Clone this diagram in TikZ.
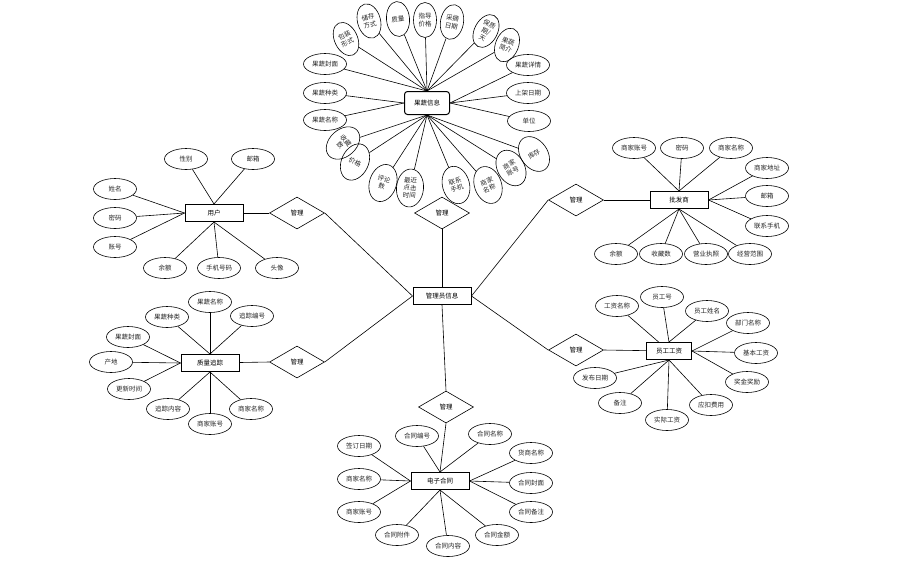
\documentclass[tikz,border=0pt]{standalone}
\usepackage{fontspec}
\newfontfamily\cjk{Noto Sans CJK SC}
\usetikzlibrary{shapes.geometric}
\tikzset{
  lbl/.style={font=\cjk\fontsize{6.5}{7.5}\selectfont,align=center,text=black!85},
  attr/.style={draw,ellipse,lbl,line width=0.6pt,inner sep=0pt,minimum width=43pt,minimum height=21pt},
  rattr/.style={attr,minimum width=23pt,minimum height=35pt},
  battr/.style={attr,minimum width=27pt,minimum height=38pt},
  ent/.style={draw,rectangle,lbl,text=black,line width=1pt,inner sep=1pt,minimum width=58pt,minimum height=17pt},
  rel/.style={draw,diamond,lbl,text=black,line width=0.6pt,inner sep=0pt,aspect=1.72,minimum width=55pt,minimum height=32pt},
}

\begin{document}
\begin{tikzpicture}[x=1pt,y=-1pt,line width=0.6pt]
  \useasboundingbox (0,0) rectangle (905,566);
  % centre and relations
  \node[ent] (adm) at (442,296) {管理员信息};
  \node[rel] (r1) at (442,213) {管理};
  \node[rel] (r2) at (297,213) {管理};
  \node[rel] (r3) at (576,200) {管理};
  \node[rel] (r4) at (297,362) {管理};
  \node[rel] (r5) at (576,350) {管理};
  \node[rel] (r6) at (446,407) {管理};
  \draw (r1.south) -- (adm.north);
  \draw (r2.east) -- (adm.west);
  \draw (r4.east) -- (adm.west);
  \draw (r3.west) -- (adm.east);
  \draw (r5.west) -- (adm.east);
  \draw (r6.north) -- (adm.south);

  % entities
  \node[ent] (yh) at (214,213) {用户};
  \node[ent] (pfs) at (679,200) {批发商};
  \node[ent] (zl) at (210,363) {质量追踪};
  \node[ent,minimum width=45pt] (yg) at (669,351) {员工工资};
  \node[ent] (ht) at (440,481) {电子合同};
  \node[ent,rounded corners=3pt,minimum width=45pt,minimum height=23pt] (gs) at (427,103) {果蔬信息};
  \draw (yh) -- (r2.west);
  \draw (pfs) -- (r3.east);
  \draw (zl) -- (r4.west);
  \draw (yg) -- (r5.east);
  \draw (r6.south) -- (ht.north);

  % 用户
  \foreach \i/\x/\y/\a/\t in {1/186/159/.north/性别,2/253/159/.north/邮箱,3/115/189/.west/姓名,4/115/218/.west/密码,
      5/115/247/.west/账号,6/165/268/.south/余额,7/219/268/.south/手机号码,8/277/268/.south/头像}{
    \node[attr] (yh\i) at (\x,\y) {\t};
    \draw (yh\i) -- (yh\a);
  }
  % 批发商
  \foreach \i/\x/\y/\a/\t in {1/634/148/.north/商家账号,2/682/148/.north/密码,3/731/148/.north/商家名称,
      4/767/168/.east/商家地址,5/767/196/.east/邮箱,6/767/226/.east/联系手机,7/616/254/.south/余额,
      8/661/254/.south/收藏数,9/706/254/.south/营业执照,10/750/254/.south/经营范围}{
    \node[attr] (pfs\i) at (\x,\y) {\t};
    \draw (pfs\i) -- (pfs\a);
  }
  % 质量追踪
  \foreach \i/\x/\y/\a/\t in {1/210/302/.north/果蔬名称,2/167/317/.north/果蔬种类,3/252/316/.north/追踪编号,
      4/128/337/.west/果蔬封面,5/111/362/.west/产地,6/129/389/.west/更新时间,7/168/409/.south/追踪内容,
      8/210/424/.south/商家账号,9/251/409/.south/商家名称}{
    \node[attr] (zl\i) at (\x,\y) {\t};
    \draw (zl\i) -- (zl\a);
  }
  % 员工工资
  \foreach \i/\x/\y/\a/\t in {1/617/306//工资名称,2/662/297/.north/员工号,3/707/311/.north/员工姓名,
      4/748/323/.east/部门名称,5/756/353/.east/基本工资,6/747/382/.east/奖金奖励,7/711/405/.south/应扣费用,
      8/667/420/.south/实际工资,9/620/403/.south/备注,10/595/378/.south/发布日期}{
    \node[attr] (yg\i) at (\x,\y) {\t};
    \draw (yg\i) -- (yg\a);
  }
  % 电子合同
  \foreach \i/\x/\y/\a/\t in {1/417/436/.north/合同编号,2/490/434/.north/合同名称,3/359/446/.west/签订日期,
      4/531/453/.east/货商名称,5/359/479/.west/商家名称,6/531/483/.east/合同封面,7/359/512/.west/商家账号,
      8/531/512/.east/合同备注,9/397/535/.south/合同附件,10/448/546/.south/合同内容,11/497/535/.south/合同金额}{
    \node[attr] (ht\i) at (\x,\y) {\t};
    \draw (ht\i) -- (ht\a);
  }
  % 果蔬信息
  \foreach \i/\x/\y/\a/\t in {1/325/64/.north/果蔬封面,2/325/93/.west/果蔬种类,3/325/120/.west/果蔬名称,
      4/528/65/.east/果蔬详情,5/528/93/.east/上架日期,6/529/121/.east/单位}{
    \node[attr] (gs\i) at (\x,\y) {\t};
    \draw (gs\i) -- (gs\a);
  }
  \foreach \i/\x/\y/\r/\t in {7/346/39/25/{包装\\形式},8/369/21/15/{储存\\方式},9/398/19/5/质量,
      10/425/20/0/{指导\\价格},11/452/22/-10/{采摘\\日期},12/486/31/-28/{保质\\期/\\天},
      13/507/45/-22/{果蔬\\简介}}{
    \node[rattr,rotate=\r] (gs\i) at (\x,\y) {\t};
    \draw (gs\i) -- (gs.north);
  }
  \foreach \i/\x/\y/\r/\t in {14/343/143/-48/{收藏\\数},15/355/162/-25/价格,
      16/383/183/-18/{评论\\数},17/410/188/-5/{最近\\点击\\时间},18/456/185/15/{联系\\手机},
      19/488/185/20/{商家\\名称},20/511/168/30/{商家\\账号},21/534/154/35/库存}{
    \node[battr,rotate=\r] (gs\i) at (\x,\y) {\t};
    \draw (gs\i) -- (gs.south);
  }
\end{tikzpicture}
\end{document}
